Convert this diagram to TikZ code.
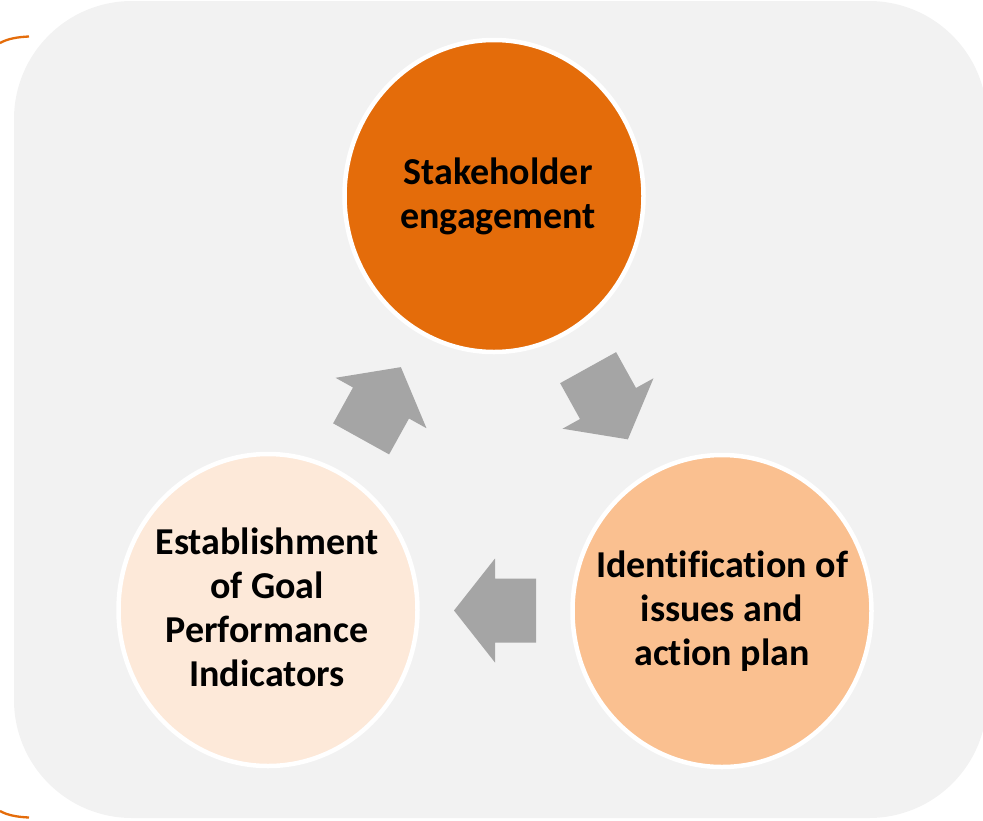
\documentclass[tikz,border=0pt]{standalone}
\usepackage{fontspec}
\setmainfont{Carlito}[Ligatures=NoCommon]
\usetikzlibrary{shapes.geometric,calc}
\definecolor{bgc}{HTML}{F2F2F2}
\definecolor{arrowgrey}{HTML}{A5A5A5}
\definecolor{orangedark}{HTML}{E46C0A}
\definecolor{orangemid}{HTML}{FAC090}
\definecolor{orangelight}{HTML}{FDE9D9}
\tikzset{
  cyclebubble/.style={ellipse, draw=white, line width=4.5pt, minimum width=299pt, minimum height=312pt, inner sep=0pt},
  bubbletext/.style={align=center, text=black, font=\bfseries\fontsize{38}{44}\selectfont, inner sep=0pt},
  blockarrow/.pic={\fill[arrowgrey] (-41,-32) -- (0,-32) -- (0,-52) -- (41,0) -- (0,52) -- (0,32) -- (-41,32) -- cycle;},
  bracketline/.style={draw=orangedark, line width=2.3pt}
}
\begin{document}
\begin{tikzpicture}[x=1pt,y=-1pt]
\useasboundingbox (0,0) rectangle (983,820);
% background panel
\fill[bgc, rounded corners=118pt] (14,1) rectangle (987,818);
% bracket ends
\coordinate (bt0) at (0,43);
\coordinate (bt1) at (29,36.5);
\coordinate (bb0) at (0,811);
\coordinate (bb1) at (29,817.5);
\draw[bracketline] (bt0) .. controls (8,38.5) and (18,37) .. (bt1);
\draw[bracketline] (bb0) .. controls (8,815.5) and (18,817) .. (bb1);
% bubbles
\node[cyclebubble, fill=orangedark] (stake) at (494,196) {};
\node[cyclebubble, fill=orangemid] (ident) at (722,611) {};
\node[cyclebubble, fill=orangelight] (estab) at (268,610) {};
% labels
\node[bubbletext] (stakeT) at (498,196) {Stakeholder\\engagement};
\node[bubbletext] (identT) at (722,611) {Identification of\\issues and\\action plan};
\node[bubbletext] (estabT) at (267,607) {Establishment\\of Goal\\Performance\\Indicators};
% block arrows
\pic[rotate=61] at ($(estab)!0.5!(stake)$) {blockarrow};
\pic[rotate=-61] at ($(stake)!0.5!(ident)$) {blockarrow};
\pic[rotate=180] at ($(ident)!0.5!(estab)$) {blockarrow};
\end{tikzpicture}
\end{document}
